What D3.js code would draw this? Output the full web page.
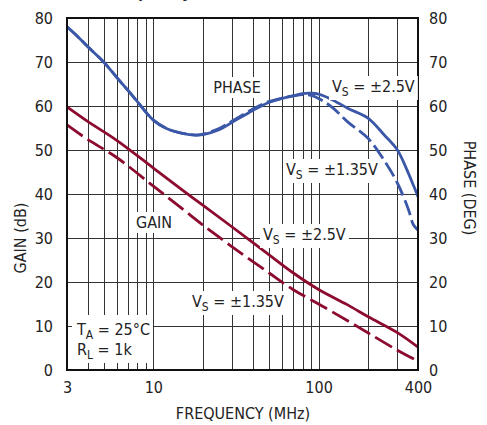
<!DOCTYPE html>
<html><head><meta charset="utf-8">
<script src="https://cdn.jsdelivr.net/npm/d3@7"></script>
<style>
html,body{margin:0;padding:0;background:#fff;}
svg{display:block;}
text{font-family:"Liberation Sans Narrow","DejaVu Sans Condensed","Roboto Condensed",sans-serif;fill:#222;}
</style></head>
<body><svg id="c" width="487" height="425"></svg>
<script>
// ---- data ----
const gainFreq = [3, 4, 6, 10, 15, 20, 30, 50, 70, 100, 150, 200, 300, 400];
const gain25  = [59.8, 56.5, 52.2, 45.9, 40.9, 37.4, 32.5, 26.2, 22.1, 18.3, 14.8, 12.1, 8.5, 5.2];
const gain135 = [55.7, 52.4, 48.3, 41.8, 36.6, 32.9, 28.0, 22.1, 18.3, 15.0, 11.2, 8.4, 4.5, 2.0];
const phaseFreq = [3, 3.5, 4, 5, 6, 7, 8, 10, 12, 15, 18, 20, 25, 30, 40, 50, 60, 70, 80, 90, 100, 120, 150, 200, 250, 300, 350, 375, 400];
const phase25  = [78, 75.7, 73.5, 70, 66.5, 63.6, 61, 56.8, 54.9, 53.8, 53.4, 53.5, 54.6, 56.3, 59, 60.8, 61.7, 62.3, 62.8, 62.9, 62.7, 61.5, 59.5, 57.2, 53.4, 50, 44.7, 42, 39.4];
const phase135 = [78, 75.7, 73.5, 70, 66.5, 63.6, 61, 56.8, 54.9, 53.8, 53.4, 53.6, 54.9, 56.6, 59.3, 61.0, 61.8, 62.3, 62.6, 62.4, 61.7, 59.8, 56.4, 52.6, 47.6, 42.5, 36.5, 33, 31.8];
const yTicks = [0, 10, 20, 30, 40, 50, 60, 70, 80];
const xTicks = [3, 10, 100, 400];
const xGrid = [4, 5, 6, 7, 8, 9, 10, 20, 30, 40, 50, 60, 70, 80, 90, 100, 200, 300];
const yGrid = [10, 20, 30, 40, 50, 60, 70];

const svg = d3.select("#c");
const L = 67, R = 418, T = 18, B = 370;
const x = d3.scaleLog().domain([3, 400]).range([L, R]);
const y = d3.scaleLinear().domain([0, 80]).range([B, T]);
const y2 = d3.scaleLinear().domain([0, 80]).range([B, T]);

// title fragment (cropped at top in the reference)
svg.append("text").attr("x", 106).attr("y", -2)
  .style("font-family", "Liberation Sans, Arial, sans-serif").style("font-weight", "bold").style("font-size", "17px")
  .text("Frequency");

// grid
const grid = svg.append("g").attr("shape-rendering", "crispEdges");
grid.selectAll(".vx").data(xGrid).join("line")
  .attr("x1", d => Math.round(x(d)) + 0.5).attr("x2", d => Math.round(x(d)) + 0.5)
  .attr("y1", T).attr("y2", B).attr("stroke", "#333").attr("stroke-width", 1);
grid.selectAll(".hy").data(yGrid).join("line")
  .attr("y1", d => Math.round(y(d)) + 0.5).attr("y2", d => Math.round(y(d)) + 0.5)
  .attr("x1", L).attr("x2", R).attr("stroke", "#333").attr("stroke-width", 1);

// curves
const line = (ys, sc) => d3.line().x((d, i) => x(d)).y((d, i) => sc(ys[i])).curve(d3.curveCatmullRom.alpha(0.5));
const gainCol = "#8c0b2e", phaseCol = "#3b58a8";
const curves = svg.append("g").attr("fill", "none").attr("stroke-width", 2.8).attr("stroke-linejoin", "round");
curves.append("path").attr("d", line(phase135, y2)(phaseFreq)).attr("stroke", phaseCol).attr("stroke-dasharray", "16,5");
curves.append("path").attr("d", line(phase25, y2)(phaseFreq)).attr("stroke", phaseCol);
curves.append("path").attr("d", line(gain135, y)(gainFreq)).attr("stroke", gainCol).attr("stroke-dasharray", "19,6");
curves.append("path").attr("d", line(gain25, y)(gainFreq)).attr("stroke", gainCol);

// frame
svg.append("rect").attr("x", L).attr("y", T).attr("width", R - L).attr("height", B - T)
  .attr("fill", "none").attr("stroke", "#111").attr("stroke-width", 2);

// axes
const fs = "16px";
const ax = svg.append("g").attr("transform", `translate(0,${B})`)
  .call(d3.axisBottom(x).tickValues(xTicks).tickSize(0).tickPadding(12).tickFormat(d3.format("d")));
const ayl = svg.append("g").attr("transform", `translate(${L},0)`)
  .call(d3.axisLeft(y).tickValues(yTicks).tickSize(0).tickPadding(14));
const ayr = svg.append("g").attr("transform", `translate(${R},0)`)
  .call(d3.axisRight(y2).tickValues(yTicks).tickSize(0).tickPadding(11));
[ax, ayl, ayr].forEach(g => {
  g.select(".domain").remove();
  g.selectAll("text").style("font-size", fs).style("font-family", null).attr("fill", "#222");
});

// axis titles
svg.append("text").attr("x", 243).attr("y", 419).attr("text-anchor", "middle").style("font-size", "16px").text("FREQUENCY (MHz)");
svg.append("text").attr("transform", "translate(26,238) rotate(-90)").attr("text-anchor", "middle").style("font-size", "16px").text("GAIN (dB)");
svg.append("text").attr("transform", "translate(464,188) rotate(90)").attr("text-anchor", "middle").style("font-size", "16px").text("PHASE (DEG)");

// annotations with white boxes
const ann = svg.append("g");
function label(xp, yp, parts, anchor) {
  const g = ann.append("g");
  const t = g.append("text").attr("x", xp).attr("y", yp).attr("text-anchor", anchor || "start").style("font-size", "16px");
  parts.forEach(p => {
    if (p.sub) t.append("tspan").attr("dy", 4).style("font-size", "12px").text(p.sub);
    else t.append("tspan").attr("dy", p.back ? -4 : 0).text(p.t);
  });
  const bb = t.node().getBBox();
  g.insert("rect", "text").attr("x", bb.x - 3).attr("y", bb.y - 1).attr("width", bb.width + 6).attr("height", bb.height + 2).attr("fill", "#fff");
}
const vs = (v) => [{t: "V"}, {sub: "S"}, {t: " = ±" + v, back: true}];
label(237, 93, [{t: "PHASE"}], "middle");
label(332, 92, vs("2.5V"));
label(286, 175, vs("1.35V"));
label(263, 240, vs("2.5V"));
label(192, 307, vs("1.35V"));
label(154, 228, [{t: "GAIN"}], "middle");

// TA / RL box
const bx = ann.append("g");
bx.append("rect").attr("x", 72).attr("y", 315).attr("width", 81).attr("height", 48).attr("fill", "#fff");
const t1 = bx.append("text").attr("x", 77).attr("y", 335).style("font-size", "16px");
t1.append("tspan").text("T");
t1.append("tspan").attr("dy", 4).style("font-size", "12px").text("A");
t1.append("tspan").attr("dy", -4).text(" = 25°C");
const t2 = bx.append("text").attr("x", 77).attr("y", 355).style("font-size", "16px");
t2.append("tspan").text("R");
t2.append("tspan").attr("dy", 4).style("font-size", "12px").text("L");
t2.append("tspan").attr("dy", -4).text(" = 1k");
</script></body></html>
